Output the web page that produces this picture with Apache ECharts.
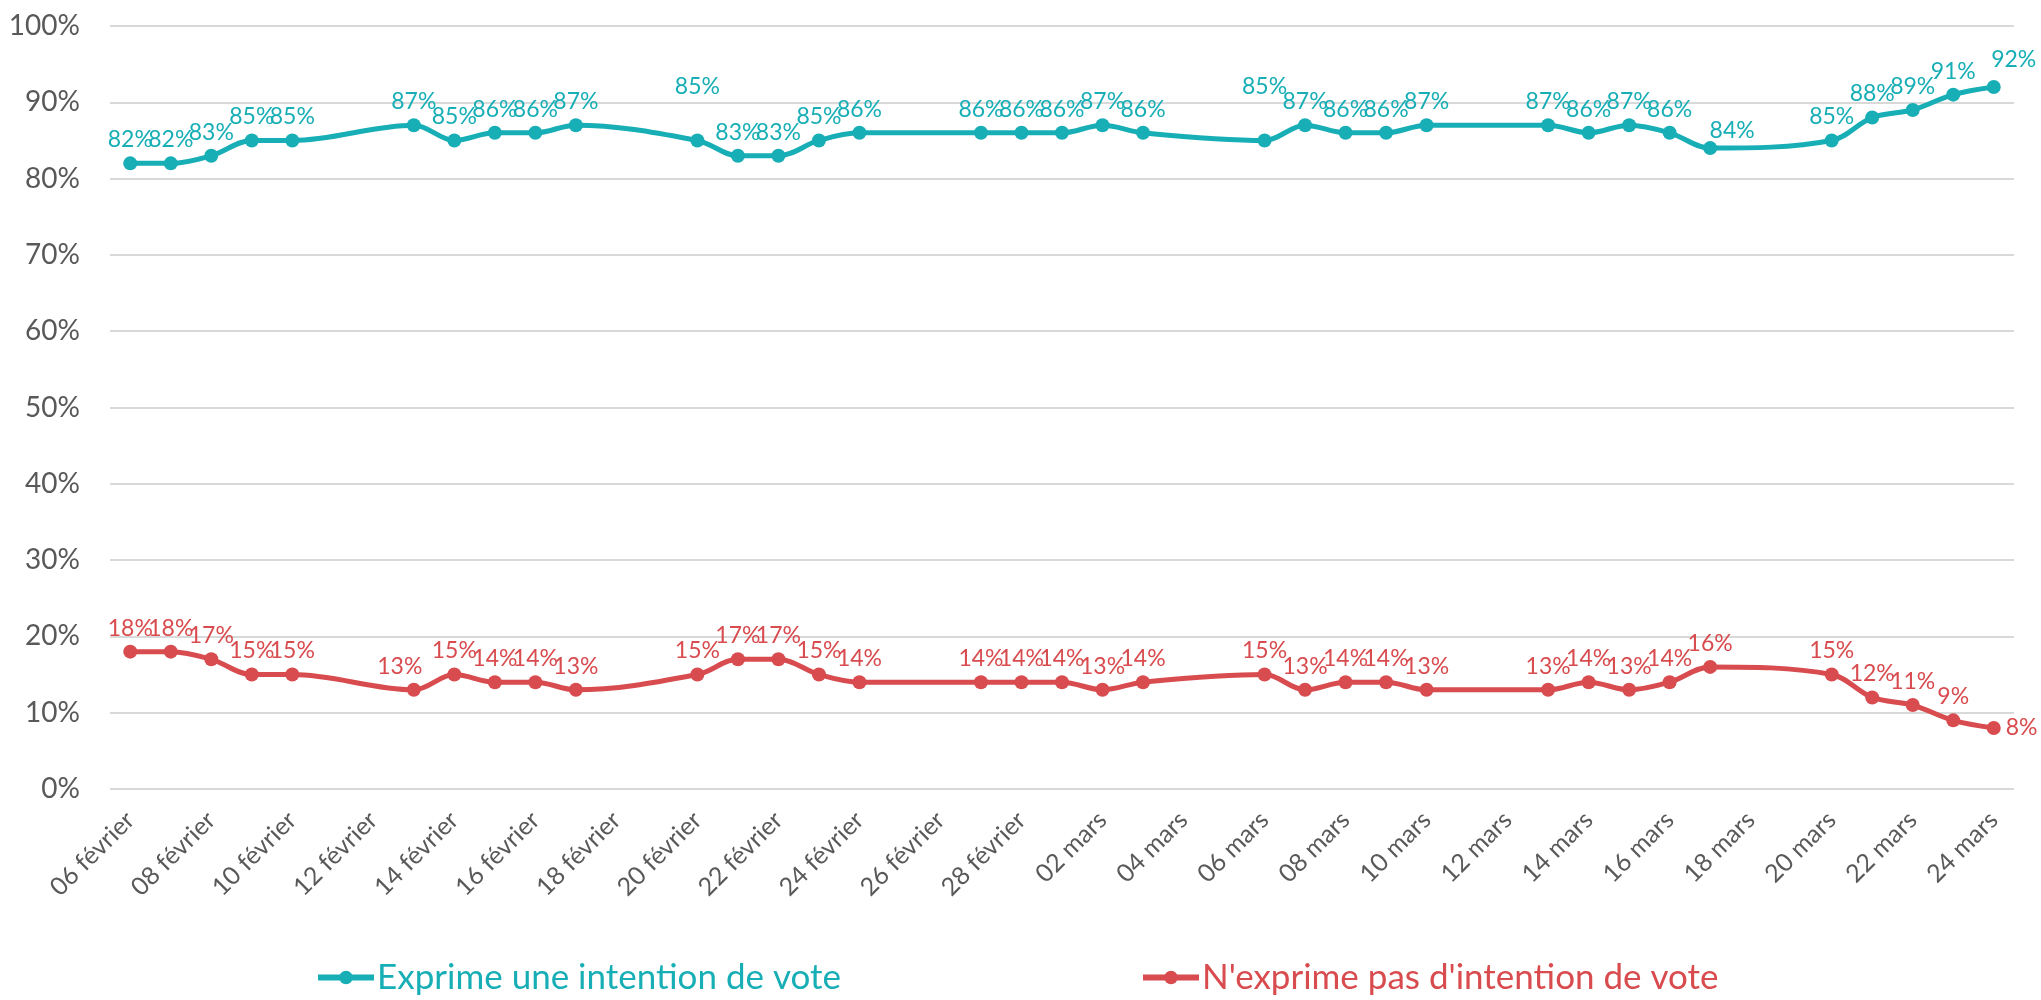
<!DOCTYPE html>
<html>

<head>
	<meta charset="utf-8">
	<title>Intention de vote</title>
	<script src="https://cdn.jsdelivr.net/npm/echarts@6/dist/echarts.min.js"></script>
	<style>
		html, body { margin: 0; padding: 0; background: #fff; }
	</style>
</head>

<body>
	<div id="main" style="width: 2041px;height:1000px;"></div>
	<script type="text/javascript">
	var myChart = echarts.init(document.getElementById('main'));

	// tous les jours de l'axe
	var days = [
		'06 février', '07 février', '08 février', '09 février', '10 février', '11 février', '12 février',
		'13 février', '14 février', '15 février', '16 février', '17 février', '18 février', '19 février',
		'20 février', '21 février', '22 février', '23 février', '24 février', '25 février', '26 février',
		'27 février', '28 février',
		'01 mars', '02 mars', '03 mars', '04 mars', '05 mars', '06 mars', '07 mars', '08 mars',
		'09 mars', '10 mars', '11 mars', '12 mars', '13 mars', '14 mars', '15 mars', '16 mars',
		'17 mars', '18 mars', '19 mars', '20 mars', '21 mars', '22 mars', '23 mars', '24 mars'
	];

	// jours de sondage
	var pollDates = [
		'06 février', '07 février', '08 février', '09 février', '10 février',
		'13 février', '14 février', '15 février', '16 février', '17 février',
		'20 février', '21 février', '22 février', '23 février', '24 février',
		'27 février', '28 février', '01 mars', '02 mars', '03 mars',
		'06 mars', '07 mars', '08 mars', '09 mars', '10 mars',
		'13 mars', '14 mars', '15 mars', '16 mars', '17 mars',
		'20 mars', '21 mars', '22 mars', '23 mars', '24 mars'
	];

	var exprime = [82, 82, 83, 85, 85, 87, 85, 86, 86, 87, 85, 83, 83, 85, 86, 86, 86, 86, 87, 86,
		85, 87, 86, 86, 87, 87, 86, 87, 86, 84, 85, 88, 89, 91, 92];
	var nExprime = [18, 18, 17, 15, 15, 13, 15, 14, 14, 13, 15, 17, 17, 15, 14, 14, 14, 14, 13, 14,
		15, 13, 14, 14, 13, 13, 14, 13, 14, 16, 15, 12, 11, 9, 8];

	var names = ['Exprime une intention de vote', "N'exprime pas d'intention de vote"];
	var colors = ['#17aeb6', '#d84b4e'];
	var font = 'Lato, "Noto Sans", sans-serif';

	// quelques étiquettes déplacées à la main, comme dans l'original
	var labelTweaks = [
		{ 10: { offset: [0, -30] }, 20: { offset: [0, -30] }, 29: { offset: [22, 6] }, 34: { offset: [20, -4] } },
		{ 5: { offset: [-14, 0] }, 34: { position: 'right', offset: [0, 0] } }
	];

	function build(values, k) {
		return values.map(function(v, i) {
			var item = { value: [pollDates[i], v] };
			if (labelTweaks[k][i]) item.label = labelTweaks[k][i];
			return item;
		});
	}

	function makeSeries(k, values) {
		return {
			name: names[k],
			type: 'line',
			smooth: 0.35,
			symbol: 'circle',
			symbolSize: 14,
			color: colors[k],
			lineStyle: { width: 5, color: colors[k] },
			itemStyle: { color: colors[k] },
			label: {
				show: true,
				position: 'top',
				distance: 5,
				color: colors[k],
				fontFamily: font,
				fontSize: 23,
				formatter: function(p) { return p.value[1] + '%'; }
			},
			animation: false,
			data: build(values, k)
		};
	}

	function legendFor(k, left) {
		return {
			data: [names[k]],
			left: left,
			top: 955,
			itemWidth: 56,
			itemHeight: 17,
			itemGap: 0,
			lineStyle: { width: 6 },
			textStyle: { color: colors[k], fontFamily: font, fontSize: 35, padding: [0, 0, 0, -2] }
		};
	}

	option = {
		backgroundColor: '#fff',
		grid: { left: 110, right: 27, top: 26, bottom: 211 },
		legend: [legendFor(0, 310), legendFor(1, 1135)],
		xAxis: {
			type: 'category',
			boundaryGap: true,
			data: days,
			axisLine: { show: false },
			axisTick: { show: false },
			axisLabel: {
				interval: 1,
				rotate: 45,
				margin: 27,
				color: '#595959',
				fontFamily: font,
				fontSize: 25
			}
		},
		yAxis: {
			type: 'value',
			min: 0,
			max: 100,
			interval: 10,
			axisLine: { show: false },
			axisTick: { show: false },
			axisLabel: {
				margin: 30,
				color: '#595959',
				fontFamily: font,
				fontSize: 28,
				formatter: '{value}%'
			},
			splitLine: { lineStyle: { color: '#d9d9d9', width: 2 } }
		},
		series: [makeSeries(0, exprime), makeSeries(1, nExprime)]
	};

	myChart.setOption(option);
	</script>
</body>

</html>
